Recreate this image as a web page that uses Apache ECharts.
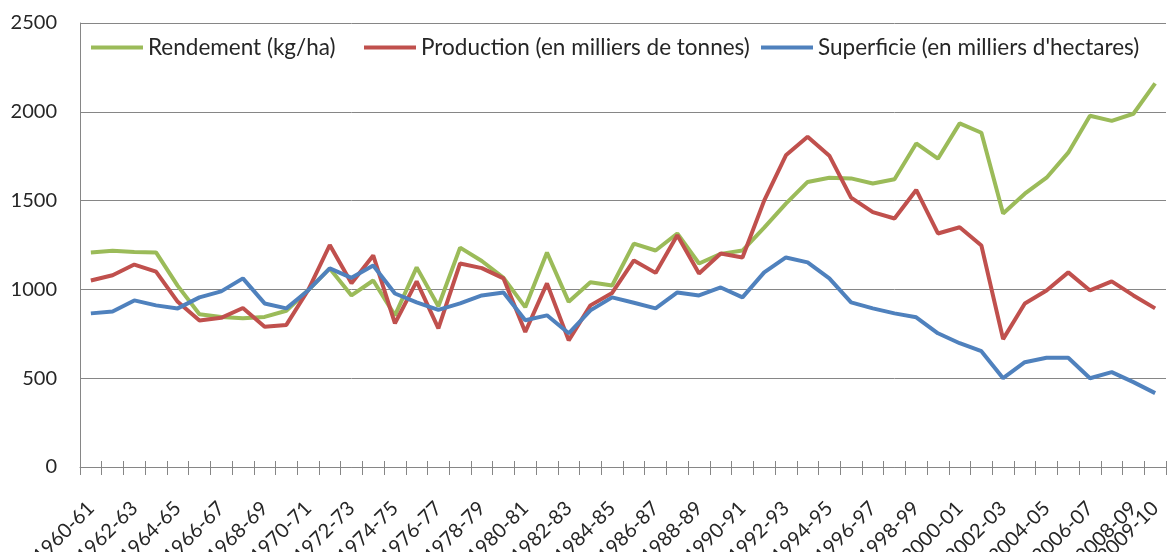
<!DOCTYPE html>
<html>
<head>
<meta charset="utf-8">
<script src="https://cdn.jsdelivr.net/npm/echarts@6/dist/echarts.min.js"></script>
<style>
html,body{margin:0;padding:0;background:#fff;}
#chart{width:1168px;height:552px;}
</style>
</head>
<body>
<div id="chart"></div>
<script>
const categories = ['1960-61','1961-62','1962-63','1963-64','1964-65','1965-66','1966-67','1967-68','1968-69','1969-70',
'1970-71','1971-72','1972-73','1973-74','1974-75','1975-76','1976-77','1977-78','1978-79','1979-80',
'1980-81','1981-82','1982-83','1983-84','1984-85','1985-86','1986-87','1987-88','1988-89','1989-90',
'1990-91','1991-92','1992-93','1993-94','1994-95','1995-96','1996-97','1997-98','1998-99','1999-00',
'2000-01','2001-02','2002-03','2003-04','2004-05','2005-06','2006-07','2007-08','2008-09','2009-10'];

const rendement = [1208,1218,1210,1208,1020,860,845,838,845,880,
995,1118,966,1050,854,1124,905,1235,1160,1065,
900,1208,930,1040,1022,1258,1219,1315,1146,1200,
1219,1348,1483,1605,1629,1625,1596,1620,1822,1736,
1935,1882,1427,1539,1629,1770,1978,1949,1989,2160];

const production = [1050,1080,1140,1100,930,825,840,895,790,800,
995,1250,1035,1191,809,1045,781,1146,1120,1062,
760,1034,713,910,980,1163,1093,1305,1090,1202,
1180,1500,1755,1860,1753,1517,1435,1399,1560,1315,
1350,1247,720,921,994,1096,994,1045,966,893];

const superficie = [865,876,938,910,893,955,989,1062,921,893,
994,1118,1065,1135,977,927,885,921,966,983,
826,854,753,882,955,925,893,983,966,1011,
955,1096,1180,1152,1062,927,893,865,843,753,
697,652,500,590,615,615,500,534,478,416];

const yTicks = {min:0, max:2500, interval:500};
const seriesNames = ['Rendement (kg/ha)','Production (en milliers de tonnes)','Superficie (en milliers d\'hectares)'];
const colors = ['#9BBB59','#C0504D','#4F81BD'];

const chart = echarts.init(document.getElementById('chart'), null, {renderer:'canvas'});
const font = 'Lato, "Open Sans", sans-serif';
const textColor = '#262626';
const legendBase = {
  top: 31, itemWidth: 52, itemHeight: 4, icon: 'rect', itemGap: 0,
  textStyle: {fontFamily: font, fontSize: 22.5, color: textColor}
};
chart.setOption({
  animation: false,
  backgroundColor: '#fff',
  textStyle: {fontFamily: font},
  grid: {left: 80, right: 2, top: 23, bottom: 85, containLabel: false, outerBoundsMode: 'none'},
  legend: [
    Object.assign({}, legendBase, {left: 86, data: [seriesNames[0]]}),
    Object.assign({}, legendBase, {left: 359, data: [seriesNames[1]]}),
    Object.assign({}, legendBase, {left: 756, data: [seriesNames[2]]})
  ],
  xAxis: [{
    type: 'category',
    data: categories,
    boundaryGap: true,
    axisLine: {lineStyle: {color: '#868686', width: 1}},
    axisTick: {show: true, interval: 0, length: 8, lineStyle: {color: '#868686'}},
    axisLabel: {
      interval: 0,
      formatter: function(v, i){ return (i % 2 === 0 || i === categories.length - 1) ? v : ''; },
      rotate: 45, margin: 38, fontSize: 20, color: textColor, fontFamily: font,
      hideOverlap: false
    },
    splitLine: {show: false}
  }, {
    type: 'category',
    data: categories,
    position: 'bottom',
    boundaryGap: true,
    axisLine: {show: false},
    axisTick: {show: true, inside: true, interval: 0, length: 6, lineStyle: {color: '#868686'}},
    axisLabel: {show: false},
    splitLine: {show: false}
  }],
  yAxis: {
    type: 'value',
    min: yTicks.min, max: yTicks.max, interval: yTicks.interval,
    axisLine: {show: true, lineStyle: {color: '#868686', width: 1}},
    axisTick: {show: false},
    axisLabel: {margin: 23, fontSize: 20, color: textColor, fontFamily: font,
      formatter: function(v){ return String(v); }},
    splitLine: {show: true, lineStyle: {color: '#868686', width: 1}}
  },
  series: [
    {name: seriesNames[0], type: 'line', data: rendement, color: colors[0], showSymbol: false, symbol: 'none', lineStyle: {width: 4}},
    {name: seriesNames[1], type: 'line', data: production, color: colors[1], showSymbol: false, symbol: 'none', lineStyle: {width: 4}},
    {name: seriesNames[2], type: 'line', data: superficie, color: colors[2], showSymbol: false, symbol: 'none', lineStyle: {width: 4}}
  ]
});
</script>
</body>
</html>
